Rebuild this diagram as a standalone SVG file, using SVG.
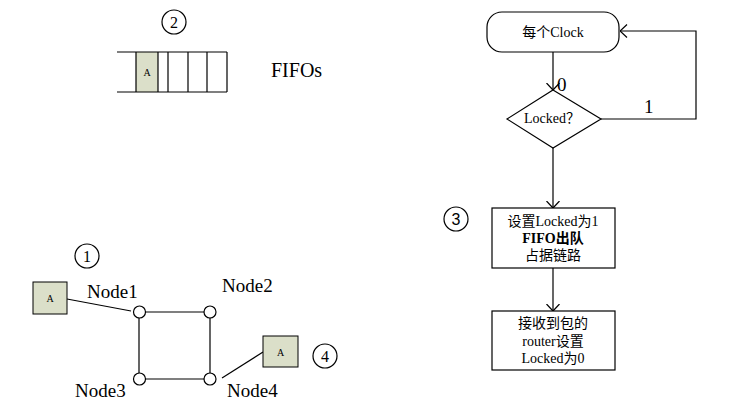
<svg xmlns="http://www.w3.org/2000/svg" width="745" height="415" viewBox="0 0 745 415">
<style>
.ln{fill:none;stroke:#000;stroke-width:1.2}
.bx{fill:#fff;stroke:#000;stroke-width:1.2}
.ga{fill:#dbdfc9;stroke:#000;stroke-width:1}
.nd{fill:#fff;stroke:#000;stroke-width:1.2}
.t{font-family:"Liberation Serif","Noto Sans CJK SC",serif;fill:#000}
.lbl{font-size:19px}
.num{font-size:16px;text-anchor:middle}
.s{font-size:14px;text-anchor:middle}
.a{font-size:10px;text-anchor:middle}
</style>
<defs>
<marker id="arr" markerUnits="userSpaceOnUse" viewBox="0 0 8 14" markerWidth="8" markerHeight="14" refX="7.5" refY="7" orient="auto">
<path d="M0.5,0.5 L7.5,7 L0.5,13.5" fill="none" stroke="#000" stroke-width="1.2"/>
</marker>
</defs>
<rect width="745" height="415" fill="#fff"/>

<g id="fifo">
<rect x="136" y="52" width="22" height="40" fill="#dbdfc9"/>
<path class="ln" d="M117,52 H227 M117,92 H227 M136,52 V92 M158,52 V92 M168,52 V92 M188,52 V92 M207,52 V92 M227,52 V92"/>
<text class="t a" x="147" y="76">A</text>
<text class="t" x="271" y="77" font-size="20">FIFOs</text>
</g>

<g id="mark2"><circle class="bx" cx="174" cy="22" r="12"/><text class="t num" x="174" y="28">2</text></g>
<g id="mark3"><circle class="bx" cx="456" cy="219" r="12"/><text class="t num" x="456" y="225" style="font-family:'Liberation Sans',sans-serif">3</text></g>
<g id="mark1"><circle class="bx" cx="87" cy="256" r="12"/><text class="t num" x="87" y="262">1</text></g>
<g id="mark4"><circle class="bx" cx="325" cy="356" r="12"/><text class="t num" x="325" y="362">4</text></g>

<g id="connectors">
<path class="ln" d="M139,312 H210 V379 H139 Z"/>
<path class="ln" d="M67,299 L131,311"/>
<path class="ln" d="M222,378 L263,352"/>
<path class="ln" d="M553,52 V90" marker-end="url(#arr)"/>
<path class="ln" d="M601,119 H696 V31 H620" marker-end="url(#arr)"/>
<path class="ln" d="M553,148 V208" marker-end="url(#arr)"/>
<path class="ln" d="M553,268 V311" marker-end="url(#arr)"/>
<text class="t" x="557" y="91" font-size="19">0</text>
<text class="t" x="644" y="113" font-size="19">1</text>
</g>

<g id="node1"><circle class="nd" cx="139.5" cy="312" r="6"/><text class="t lbl" x="87" y="298">Node1</text></g>
<g id="node2"><circle class="nd" cx="210" cy="312" r="6"/><text class="t lbl" x="222" y="292">Node2</text></g>
<g id="node3"><circle class="nd" cx="139.5" cy="379" r="6"/><text class="t lbl" x="75" y="397">Node3</text></g>
<g id="node4"><circle class="nd" cx="210" cy="379" r="6"/><text class="t lbl" x="227" y="397">Node4</text></g>

<g id="pktA1"><rect class="ga" x="33" y="282" width="34" height="32"/><text class="t a" x="50" y="302">A</text></g>
<g id="pktA2"><rect class="ga" x="263" y="336" width="35" height="31"/><text class="t a" x="280.5" y="356">A</text></g>

<g id="start"><rect class="bx" x="487" y="12" width="132" height="40" rx="15"/><text class="t s" x="553" y="37">每个Clock</text></g>
<g id="decision"><path class="bx" d="M553,90 L601,119 L553,148 L507,119 Z"/><text class="t s" x="552" y="123" font-size="13.5">Locked？</text></g>
<g id="step3"><rect class="bx" x="492" y="208" width="123" height="60"/>
<text class="t s" x="553" y="226">设置Locked为1</text>
<text class="t s" x="553" y="243" font-weight="bold">FIFO出队</text>
<text class="t s" x="553" y="260">占据链路</text>
</g>
<g id="step4"><rect class="bx" x="492" y="311" width="123" height="59"/>
<text class="t s" x="553" y="328">接收到包的</text>
<text class="t s" x="553" y="346">router设置</text>
<text class="t s" x="553" y="363">Locked为0</text>
</g>
</svg>
